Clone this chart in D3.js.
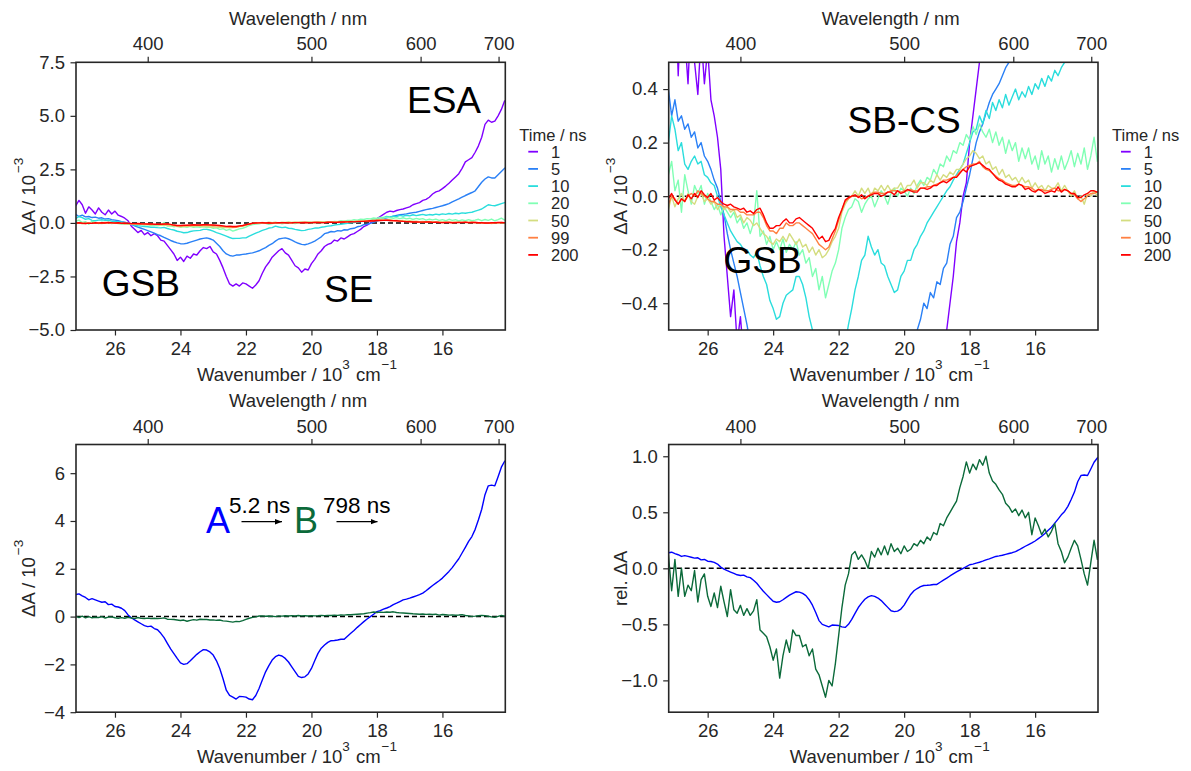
<!DOCTYPE html>
<html><head><meta charset="utf-8">
<script src="https://cdn.jsdelivr.net/npm/d3@7"></script>
<style>
body{margin:0;background:#fff}
text{font-family:"Liberation Sans",Arial,Helvetica,sans-serif}
</style>
</head><body>
<svg id="c" width="1191" height="771"></svg>
<script>
// ---------------- DATA ----------------
const wavenumbers = [27.2,27.1,27.0,26.9,26.8,26.7,26.6,26.5,26.4,26.3,
 26.2,26.1,26.0,25.9,25.8,25.7,25.6,25.5,25.4,25.3,
 25.2,25.1,25.0,24.9,24.8,24.7,24.6,24.5,24.4,24.3,
 24.2,24.1,24.0,23.9,23.8,23.7,23.6,23.5,23.4,23.3,
 23.2,23.1,23.0,22.9,22.8,22.7,22.6,22.5,22.4,22.3,
 22.2,22.1,22.0,21.9,21.8,21.7,21.6,21.5,21.4,21.3,
 21.2,21.1,21.0,20.9,20.8,20.7,20.6,20.5,20.4,20.3,
 20.2,20.1,20.0,19.9,19.8,19.7,19.6,19.5,19.4,19.3,
 19.2,19.1,19.0,18.9,18.8,18.7,18.6,18.5,18.4,18.3,
 18.2,18.1,18.0,17.9,17.8,17.7,17.6,17.5,17.4,17.3,
 17.2,17.1,17.0,16.9,16.8,16.7,16.6,16.5,16.4,16.3,
 16.2,16.1,16.0,15.9,15.8,15.7,15.6,15.5,15.4,15.3,
 15.2,15.1,15.0,14.9,14.8,14.7,14.6,14.5,14.4,14.3,
 14.2,14.1,14.0];

const timesLeft = ["1","5","10","20","50","99","200"];
const timesRight = ["1","5","10","20","50","100","200"];
const timeColors = ["#8000ff","#2a80f6","#2adddd","#80ffb4","#d4dd80","#ff8042","#ff0000"];

const dA_1ns = [0.8,1.05,0.85,0.45,0.75,0.6,0.42,0.7,0.5,0.38,
 0.6,0.42,0.55,0.36,0.3,0.22,0.1,-0.15,-0.3,-0.45,
 -0.35,-0.55,-0.45,-0.6,-0.5,-0.6,-0.8,-0.85,-1.05,-1.25,
 -1.45,-1.75,-1.6,-1.8,-1.55,-1.65,-1.45,-1.5,-1.3,-1.15,
 -1.2,-1.1,-1.35,-1.45,-1.75,-2.1,-2.5,-2.85,-2.95,-2.85,
 -2.95,-2.8,-2.85,-2.95,-3.05,-2.9,-2.7,-2.35,-2.05,-1.85,
 -1.6,-1.45,-1.3,-1.2,-1.4,-1.5,-1.75,-2.0,-2.1,-2.3,
 -2.15,-2.2,-1.9,-1.7,-1.45,-1.3,-1.1,-1.0,-0.95,-0.8,
 -0.85,-0.7,-0.75,-0.65,-0.55,-0.5,-0.4,-0.3,-0.17,-0.1,
 0.0,0.05,0.2,0.3,0.4,0.5,0.55,0.52,0.58,0.62,
 0.65,0.7,0.75,0.85,0.9,0.95,1.05,1.1,1.2,1.35,
 1.45,1.5,1.6,1.72,1.85,2.0,2.15,2.3,2.55,2.85,
 2.95,3.05,3.3,3.6,4.0,4.6,4.8,4.7,4.75,5.0,
 5.3,5.7,5.6];
const dA_5ns = [0.4,0.3,0.36,0.28,0.3,0.25,0.27,0.22,0.24,0.18,
 0.2,0.15,0.13,0.1,0.06,0.03,-0.02,-0.07,-0.14,-0.2,
 -0.25,-0.3,-0.36,-0.42,-0.48,-0.55,-0.6,-0.68,-0.75,-0.82,
 -0.88,-0.93,-0.97,-0.98,-0.95,-0.9,-0.85,-0.8,-0.75,-0.72,
 -0.7,-0.74,-0.8,-0.95,-1.1,-1.3,-1.45,-1.52,-1.55,-1.5,
 -1.5,-1.47,-1.45,-1.42,-1.4,-1.35,-1.3,-1.22,-1.15,-1.05,
 -0.97,-0.85,-0.75,-0.72,-0.7,-0.74,-0.8,-0.88,-0.95,-1.0,
 -1.02,-0.98,-0.92,-0.85,-0.75,-0.65,-0.5,-0.46,-0.4,-0.42,
 -0.36,-0.38,-0.32,-0.33,-0.27,-0.25,-0.18,-0.15,-0.08,-0.06,
 -0.02,0.03,0.08,0.14,0.2,0.24,0.27,0.31,0.35,0.38,
 0.4,0.42,0.45,0.48,0.5,0.54,0.58,0.62,0.65,0.68,
 0.72,0.76,0.8,0.85,0.9,0.98,1.05,1.12,1.2,1.28,
 1.35,1.42,1.5,1.7,1.9,2.05,2.15,2.1,2.1,2.25,
 2.4,2.55,2.65];
const dA_10ns = [0.2,0.3,0.25,0.17,0.2,0.12,0.1,0.13,0.15,0.12,
 0.13,0.08,0.07,0.05,0.04,0.0,-0.04,-0.07,-0.1,-0.13,
 -0.15,-0.17,-0.18,-0.2,-0.2,-0.22,-0.23,-0.21,-0.26,-0.3,
 -0.33,-0.39,-0.42,-0.46,-0.45,-0.4,-0.37,-0.36,-0.35,-0.3,
 -0.3,-0.33,-0.38,-0.45,-0.5,-0.56,-0.62,-0.68,-0.73,-0.72,
 -0.72,-0.7,-0.7,-0.62,-0.55,-0.48,-0.42,-0.35,-0.3,-0.24,
 -0.22,-0.15,-0.19,-0.22,-0.2,-0.25,-0.26,-0.3,-0.33,-0.36,
 -0.35,-0.3,-0.28,-0.24,-0.24,-0.2,-0.18,-0.15,-0.13,-0.1,
 -0.08,-0.06,-0.04,-0.02,0.0,0.02,0.035,0.06,0.08,0.1,
 0.12,0.16,0.2,0.24,0.25,0.3,0.27,0.32,0.29,0.35,
 0.32,0.36,0.33,0.38,0.34,0.37,0.4,0.36,0.39,0.37,
 0.41,0.38,0.42,0.4,0.44,0.41,0.45,0.43,0.47,0.45,
 0.48,0.5,0.55,0.6,0.65,0.75,0.85,0.82,0.8,0.85,
 0.9,0.95,1.0];
const dA_20ns = [0.08,0.13,0.02,0.06,-0.06,0.08,0.02,-0.03,0.04,0.01,
 0.04,-0.03,0.01,-0.02,-0.05,-0.03,-0.07,-0.04,-0.06,-0.08,
 -0.06,-0.1,-0.08,-0.12,-0.1,-0.14,-0.1,0.02,-0.15,-0.13,
 -0.18,-0.15,-0.2,-0.17,-0.2,-0.16,-0.21,-0.18,-0.2,-0.17,
 -0.22,-0.2,-0.25,-0.23,-0.3,-0.27,-0.35,-0.3,-0.38,-0.33,
 -0.28,-0.25,-0.2,-0.12,-0.08,-0.05,-0.04,-0.01,-0.02,-0.06,
 -0.03,-0.01,0.0,-0.04,-0.01,0.02,0.0,-0.03,0.01,0.03,
 0.0,0.03,0.02,0.0,0.03,0.01,0.04,0.06,0.04,0.07,
 0.06,0.1,0.08,0.12,0.11,0.15,0.13,0.17,0.16,0.2,
 0.19,0.23,0.21,0.26,0.23,0.27,0.24,0.22,0.25,0.2,
 0.24,0.19,0.22,0.16,0.21,0.17,0.2,0.13,0.18,0.14,
 0.18,0.12,0.15,0.1,0.17,0.12,0.15,0.09,0.14,0.1,
 0.15,0.1,0.13,0.17,0.11,0.16,0.12,0.18,0.1,0.15,
 0.22,0.13,0.2];
const dA_50ns = [-0.05,0.0,-0.04,-0.01,0.01,-0.02,0.01,-0.02,-0.03,0.0,
 0.01,-0.02,-0.01,-0.03,-0.02,-0.05,-0.03,-0.05,-0.04,-0.06,
 -0.05,-0.08,-0.07,-0.1,-0.08,-0.09,-0.11,-0.1,-0.12,-0.14,
 -0.15,-0.17,-0.18,-0.16,-0.17,-0.15,-0.17,-0.14,-0.16,-0.18,
 -0.16,-0.19,-0.18,-0.21,-0.19,-0.22,-0.2,-0.23,-0.22,-0.2,
 -0.17,-0.15,-0.12,-0.06,-0.03,-0.01,0.0,0.02,0.0,0.03,
 0.01,0.03,0.0,0.03,0.02,0.04,0.02,0.04,0.02,0.03,
 0.03,0.05,0.02,0.04,0.04,0.06,0.03,0.05,0.05,0.04,
 0.06,0.05,0.08,0.06,0.08,0.07,0.09,0.08,0.1,0.1,
 0.12,0.14,0.15,0.17,0.16,0.14,0.15,0.12,0.13,0.1,
 0.11,0.08,0.1,0.07,0.08,0.06,0.07,0.05,0.07,0.05,
 0.06,0.03,0.05,0.03,0.04,0.02,0.04,0.03,0.03,0.05,
 0.02,0.04,0.02,0.0,0.02,-0.01,0.0,-0.03,0.01,0.0,
 0.02,0.0,0.03];
const dA_100ns = [-0.03,0.0,-0.01,-0.03,-0.01,-0.02,0.0,0.01,0.0,0.02,
 0.01,0.0,-0.01,-0.02,-0.02,-0.03,-0.03,-0.04,-0.04,-0.05,
 -0.05,-0.05,-0.06,-0.06,-0.07,-0.07,-0.07,-0.06,-0.06,-0.08,
 -0.11,-0.13,-0.13,-0.14,-0.12,-0.12,-0.1,-0.11,-0.11,-0.1,
 -0.1,-0.11,-0.12,-0.13,-0.14,-0.16,-0.18,-0.19,-0.2,-0.19,
 -0.16,-0.13,-0.09,-0.05,-0.02,-0.01,0.0,0.0,0.0,-0.01,
 -0.005,0.0,0.01,0.015,0.015,0.01,0.01,0.015,0.02,0.02,
 0.02,0.015,0.02,0.02,0.025,0.02,0.02,0.03,0.03,0.035,
 0.035,0.04,0.045,0.05,0.06,0.06,0.065,0.07,0.075,0.09,
 0.1,0.11,0.115,0.12,0.12,0.13,0.11,0.1,0.095,0.085,
 0.075,0.065,0.06,0.05,0.045,0.04,0.04,0.045,0.04,0.035,
 0.035,0.03,0.02,0.025,0.025,0.02,0.02,0.025,0.03,0.02,
 0.02,0.025,0.02,0.01,0.005,-0.01,-0.02,-0.01,0.0,0.01,
 0.01,0.015,0.01];
const dA_200ns = [-0.01,0.01,-0.015,-0.03,-0.01,-0.02,0.005,-0.01,0.01,-0.005,
 0.02,0.005,-0.005,0.01,-0.015,-0.005,-0.02,-0.03,-0.035,-0.03,
 -0.04,-0.045,-0.05,-0.045,-0.06,-0.055,-0.065,-0.05,-0.045,-0.07,
 -0.1,-0.12,-0.12,-0.11,-0.11,-0.095,-0.085,-0.1,-0.1,-0.085,
 -0.08,-0.09,-0.1,-0.11,-0.12,-0.14,-0.16,-0.15,-0.17,-0.165,
 -0.14,-0.12,-0.08,-0.05,-0.015,-0.005,0.0,0.005,-0.005,0.005,
 -0.01,0.0,0.005,0.01,0.01,0.0,0.005,0.015,0.015,0.005,
 0.02,0.01,0.015,0.025,0.02,0.015,0.015,0.03,0.03,0.025,
 0.03,0.04,0.04,0.05,0.055,0.05,0.06,0.07,0.07,0.085,
 0.1,0.09,0.11,0.115,0.12,0.125,0.115,0.105,0.1,0.085,
 0.07,0.06,0.055,0.045,0.04,0.035,0.035,0.045,0.04,0.025,
 0.03,0.02,0.015,0.025,0.02,0.01,0.015,0.02,0.015,0.035,
 0.015,0.025,0.02,0.01,0.01,-0.005,-0.005,0.005,0.01,0.02,
 0.02,0.015,0.02];
const timeSeries = [dA_1ns,dA_5ns,dA_10ns,dA_20ns,dA_50ns,dA_100ns,dA_200ns];

// species-associated spectra (A in 10^-3, B relative)
const speciesA = [0.92,0.95,0.87,0.8,0.7,0.75,0.7,0.65,0.6,0.62,
 0.5,0.52,0.42,0.4,0.35,0.25,0.07,-0.05,-0.14,-0.22,
 -0.3,-0.38,-0.42,-0.4,-0.5,-0.55,-0.7,-0.88,-1.12,-1.35,
 -1.55,-1.75,-1.94,-2.0,-1.97,-1.85,-1.71,-1.58,-1.47,-1.38,
 -1.4,-1.48,-1.61,-1.85,-2.17,-2.6,-3.08,-3.3,-3.37,-3.45,
 -3.34,-3.35,-3.37,-3.45,-3.48,-3.3,-3.01,-2.65,-2.31,-2.05,
 -1.82,-1.68,-1.61,-1.65,-1.75,-1.9,-2.1,-2.3,-2.5,-2.55,
 -2.52,-2.4,-2.17,-1.85,-1.54,-1.32,-1.19,-1.08,-1.01,-1.0,
 -0.98,-0.95,-0.95,-0.82,-0.7,-0.58,-0.45,-0.33,-0.21,-0.1,
 0.0,0.1,0.21,0.25,0.31,0.36,0.42,0.5,0.56,0.63,
 0.7,0.73,0.77,0.82,0.87,0.92,0.98,1.08,1.19,1.3,
 1.4,1.5,1.61,1.75,1.89,2.05,2.24,2.42,2.66,2.9,
 3.15,3.35,3.65,4.05,4.49,5.1,5.47,5.5,5.47,5.85,
 6.25,6.5,6.6];
const speciesBRel = [0.12,-0.2,0.08,-0.25,0.0,-0.25,-0.15,-0.2,-0.02,-0.3,
 -0.1,-0.05,-0.25,-0.34,-0.22,-0.35,-0.16,-0.3,-0.43,-0.19,
 -0.37,-0.4,-0.33,-0.42,-0.36,-0.42,-0.38,-0.28,-0.55,-0.58,
 -0.61,-0.7,-0.82,-0.72,-0.98,-0.78,-0.64,-0.75,-0.55,-0.6,
 -0.6,-0.7,-0.68,-0.78,-0.72,-0.9,-0.95,-1.05,-1.15,-1.0,
 -1.05,-0.85,-0.6,-0.35,-0.15,-0.05,0.12,0.15,0.08,0.12,
 0.07,0.0,0.15,0.1,0.18,0.12,0.2,0.12,0.22,0.15,
 0.18,0.13,0.2,0.15,0.17,0.22,0.2,0.25,0.22,0.28,
 0.25,0.32,0.3,0.4,0.38,0.45,0.5,0.55,0.6,0.72,
 0.82,0.95,0.85,0.93,0.88,0.97,0.92,1.0,0.85,0.78,
 0.75,0.7,0.66,0.58,0.55,0.5,0.53,0.47,0.52,0.45,
 0.5,0.3,0.45,0.38,0.3,0.35,0.28,0.33,0.4,0.22,
 0.15,0.05,0.1,0.18,0.25,0.2,0.08,-0.05,-0.15,0.05,
 0.25,0.08,0.15];
const maxA = 6.6;      // normalisation of A (10^-3)
const maxB = 0.2;      // normalisation of B (10^-3)

const wnTicks = [26,24,22,20,18,16];
const nmTicks = [400,500,600,700];
const xDomain = [27.19,14.08];

// ---------------- LAYOUT ----------------
const L = {x0:76, x1:505.3, dx:592.7, y0:62.3, y1:330, dy:382.2};
const INK = "#262626";
const TICKFS = 18.5;
const svg = d3.select("#c");
const defs = svg.append("defs");
defs.append("marker").attr("id","arr").attr("viewBox","0 0 10 10").attr("refX",10).attr("refY",5)
  .attr("markerWidth",7).attr("markerHeight",7).attr("markerUnits","userSpaceOnUse").attr("orient","auto")
  .append("path").attr("d","M0,1 L10,5 L0,9 Z").attr("fill","#000");

function styleAxis(sel){
  sel.select(".domain").remove();
  sel.selectAll(".tick line").attr("stroke",INK).attr("stroke-width",1.2);
  sel.selectAll(".tick text").attr("fill",INK).style("font-size",TICKFS+"px")
     .style("font-family",'"Liberation Sans",Arial,sans-serif');
}

function panel(col,row,yDomain,yTicks,yFmt){
  const left=L.x0+col*L.dx, right=L.x1+col*L.dx, top=L.y0+row*L.dy, bottom=L.y1+row*L.dy;
  const x=d3.scaleLinear().domain(xDomain).range([left,right]);
  const y=d3.scaleLinear().domain(yDomain).range([bottom,top]);
  const g=svg.append("g");
  const id="clip"+col+row;
  defs.append("clipPath").attr("id",id).append("rect").attr("x",left).attr("y",top)
     .attr("width",right-left).attr("height",bottom-top);
  const plot=g.append("g").attr("clip-path",`url(#${id})`);
  plot.append("line").attr("x1",left).attr("x2",right).attr("y1",y(0)).attr("y2",y(0))
     .attr("stroke","#000").attr("stroke-width",1.5).attr("stroke-dasharray","5,3");
  g.append("g").attr("transform",`translate(0,${bottom})`)
    .call(d3.axisBottom(x).tickValues(wnTicks).tickFormat(d3.format("d")).tickSize(5.5).tickPadding(6)).call(styleAxis);
  g.append("g").attr("transform",`translate(0,${top})`)
    .call(d3.axisTop(x).tickValues(nmTicks.map(n=>1e4/n)).tickFormat((d,i)=>nmTicks[i]).tickSize(5.5).tickPadding(6.5)).call(styleAxis);
  g.append("g").attr("transform",`translate(${left},0)`)
    .call(d3.axisLeft(y).tickValues(yTicks).tickFormat(yFmt).tickSize(5.5).tickPadding(5.5)).call(styleAxis);
  g.append("text").attr("x",298+col*L.dx).attr("y",25+row*L.dy).attr("text-anchor","middle")
    .attr("fill",INK).style("font-size","18.5px").text("Wavelength / nm");
  const bt=g.append("text").attr("x",297+col*L.dx).attr("y",380.5+row*L.dy).attr("text-anchor","middle")
    .attr("fill",INK).style("font-size","18.5px");
  bt.append("tspan").text("Wavenumber / 10");
  bt.append("tspan").attr("dy",-12).style("font-size","13.5px").text("3");
  bt.append("tspan").attr("dy",12).attr("dx",6).text("cm");
  bt.append("tspan").attr("dy",-12).attr("dx",1).style("font-size","13.5px").text("\u22121");
  return {x,y,g,plot,left,right,top,bottom};
}

function ylabel(p,col,parts){
  const t=p.g.append("text").attr("transform",`translate(${34.6+col*L.dx},${(p.top+p.bottom)/2}) rotate(-90)`)
    .attr("text-anchor","middle").attr("fill",INK).style("font-size","18.5px");
  t.append("tspan").text(parts[0]);
  if(parts[1]) t.append("tspan").attr("dy",-12).attr("dx",2).style("font-size","13.5px").text(parts[1]);
}

function drawLine(p,vals,color,width){
  const line=d3.line().x((d,i)=>p.x(wavenumbers[i])).y(d=>p.y(d));
  p.plot.append("path").datum(vals).attr("d",line).attr("fill","none")
    .attr("stroke",color).attr("stroke-width",width||1.5).attr("stroke-linejoin","round");
}

function frame(p){
  p.g.append("rect").attr("x",p.left).attr("y",p.top).attr("width",p.right-p.left).attr("height",p.bottom-p.top)
    .attr("fill","none").attr("stroke",INK).attr("stroke-width",1.6);
}

function legend(col,labels){
  const ox=col*L.dx;
  const g=svg.append("g");
  g.append("text").attr("x",519.3+ox).attr("y",141).attr("fill",INK).style("font-size","16.5px").text("Time / ns");
  labels.forEach((lab,i)=>{
    const cy=151.7+i*17.2;
    g.append("line").attr("x1",528.3+ox).attr("x2",538+ox).attr("y1",cy).attr("y2",cy)
      .attr("stroke",timeColors[i]).attr("stroke-width",1.8);
    g.append("text").attr("x",551+ox).attr("y",cy+6).attr("fill",INK).style("font-size","16.5px").text(lab);
  });
}

function label(p,txt,x,y,size,color){
  p.g.append("text").attr("x",x).attr("y",y).attr("fill",color||"#000").style("font-size",size+"px").text(txt);
}

// ---------------- PANEL 1 ----------------
const f1=d3.format(".1f");
const p1=panel(0,0,[-5,7.5],[-5,-2.5,0,2.5,5,7.5],f1);
timeSeries.forEach((s,i)=>drawLine(p1,s,timeColors[i],1.4));
frame(p1);
ylabel(p1,0,["\u0394A / 10","\u22123"]);
legend(0,timesLeft);
label(p1,"ESA",407,113,37);
label(p1,"GSB",101.7,295.5,37);
label(p1,"SE",324,301.7,37);

// ---------------- PANEL 2 ----------------
const p2=panel(1,0,[-0.5,0.5],[-0.4,-0.2,0,0.2,0.4],f1);
timeSeries.forEach((s,i)=>drawLine(p2,s,timeColors[i],1.4));
frame(p2);
ylabel(p2,1,["\u0394A / 10","\u22123"]);
legend(1,timesRight);
label(p2,"SB-CS",847.6,133.3,37);
label(p2,"GSB",723.5,273.3,37);

// ---------------- PANEL 3 ----------------
const colA="#0000ff", colB="#0b6a3a";
const p3=panel(0,1,[-4,7.2],[-4,-2,0,2,4,6],d3.format("d"));
drawLine(p3,speciesA,colA,1.4);
drawLine(p3,speciesBRel.map(v=>v*maxB),colB,1.4);
frame(p3);
ylabel(p3,0,["\u0394A / 10","\u22123"]);
label(p3,"A",206,533,36,colA);
label(p3,"B",294,533,36,colB);
label(p3,"5.2 ns",229,513,22.5);
label(p3,"798 ns",323,513,22.5);
p3.g.append("line").attr("x1",241.5).attr("x2",282).attr("y1",521.7).attr("y2",521.7)
  .attr("stroke","#000").attr("stroke-width",1.3).attr("marker-end","url(#arr)");
p3.g.append("line").attr("x1",336.5).attr("x2",377.5).attr("y1",521.7).attr("y2",521.7)
  .attr("stroke","#000").attr("stroke-width",1.3).attr("marker-end","url(#arr)");

// ---------------- PANEL 4 ----------------
const p4=panel(1,1,[-1.284,1.105],[-1,-0.5,0,0.5,1],f1);
drawLine(p4,speciesA.map(v=>v/maxA),colA,1.4);
drawLine(p4,speciesBRel,colB,1.4);
frame(p4);
ylabel(p4,1,["rel. \u0394A"]);
</script>
</body></html>
